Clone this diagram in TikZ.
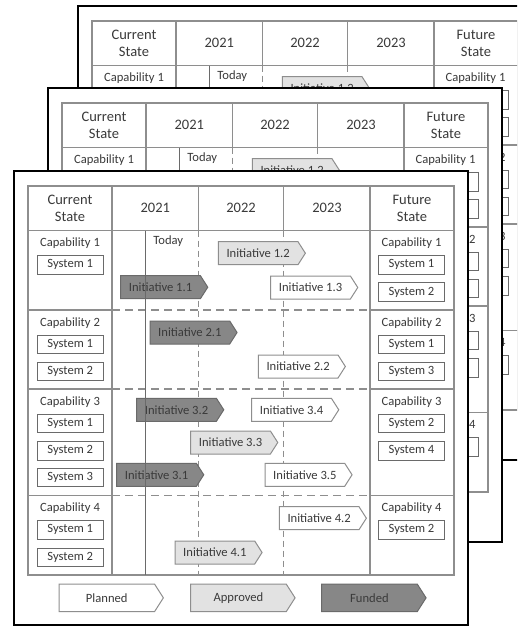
\documentclass[tikz,border=0pt]{standalone}
\usepackage{fontspec}
\setmainfont{Carlito}

\definecolor{gridgray}{HTML}{8E8E8E}
\definecolor{boxgray}{HTML}{6A6A6A}
\definecolor{inkgray}{HTML}{3A3A3A}
\definecolor{fundfill}{HTML}{878787}
\definecolor{apprfill}{HTML}{E2E2E2}

\tikzset{
  gridline/.style={draw=gridgray, line width=1.1pt},
  griddash/.style={draw=gridgray, line width=1.1pt, dash pattern=on 8pt off 5pt},
  griddashv/.style={draw=gridgray, line width=1.1pt, dash pattern=on 6pt off 4pt},
  todayline/.style={draw=boxgray, line width=1.1pt},
  sheetframe/.style={draw=black, line width=1.8pt, fill=white},
  headtext/.style={font=\fontsize{14.5}{16.7}\selectfont, text=inkgray, align=center, inner sep=0pt},
  bodytext/.style={font=\fontsize{12.6}{15}\selectfont, text=inkgray, inner sep=0pt},
  sysbox/.style={bodytext, draw=boxgray, line width=1pt, fill=white,
                 minimum width=66pt, minimum height=18.3pt},
  planned/.style={draw=gridgray, line width=1pt, fill=white},
  approved/.style={draw=gridgray, line width=1pt, fill=apprfill},
  funded/.style={draw=boxgray, line width=1pt, fill=fundfill},
}

% status tag: name, left, top, body width, height, status style, label
\newcommand\statustag[7]{%
  \path[#6] (#2,#3) -- ++(#4,0) -- ++(0.32*#5,0.5*#5) -- ++(-0.32*#5,0.5*#5)
        -- ++(-#4,0) -- cycle;
  \node[bodytext] (#1) at (#2+0.5*#4,#3+0.5*#5) {#7};
}

% sheet frame, table grid, header, first row and future state column;
% #1 prefixes the node names
\newcommand\sheetbase[1]{%
  \path[sheetframe] (14,171) rectangle (468,625);
  % dashed year boundaries and capability separators
  \foreach \xx in {198.5,283.7} \draw[griddashv] (\xx,230.7) -- (\xx,575);
  \foreach \yy in {310,389,495.5} {%
    \draw[griddash] (112,\yy) -- (370,\yy);
    \draw[gridline] (28,\yy) -- (112,\yy) (370,\yy) -- (454,\yy);
  }
  % solid table frame
  \draw[gridline] (28,186) rectangle (454,575);
  \draw[gridline] (28,230.7) -- (454,230.7);
  \foreach \xx in {198.5,283.7} \draw[gridline] (\xx,186) -- (\xx,230.7);
  \foreach \xx in {112,370} \draw[gridline] (\xx,186) -- (\xx,575);
  % header
  \node[headtext] (#1-cur) at (70,208.3) {Current\\State};
  \node[headtext] (#1-y21) at (155.3,208.3) {2021};
  \node[headtext] (#1-y22) at (241,208.3) {2022};
  \node[headtext] (#1-y23) at (327,208.3) {2023};
  \node[headtext] (#1-fut) at (412,208.3) {Future\\State};
  \node[bodytext] (#1-today) at (168.3,241) {Today};
  \node[bodytext] (#1-cc1) at (70,242.7) {Capability 1};
  % future state capabilities and systems
  \foreach \nm/\yy/\lbl in {
      fc1/242.7/Capability 1, fc2/322.7/Capability 2,
      fc3/401.7/Capability 3, fc4/508.3/Capability 4}
    \node[bodytext] (#1-\nm) at (411.5,\yy) {\lbl};
  \foreach \nm/\yy/\lbl in {
      fs11/264.9/System 1, fs12/292/System 2,
      fs21/344.2/System 1, fs23/371.5/System 3,
      fs32/423.5/System 2, fs34/450.9/System 4,
      fs42/529.9/System 2}
    \node[sysbox] (#1-\nm) at (411.5,\yy) {\lbl};
  \statustag{#1-i12}{218.3}{241.7}{79.7}{23}{approved}{Initiative 1.2}
}

% current state column, remaining initiatives and the legend
\newcommand\sheetbody[1]{%
  \foreach \nm/\yy/\lbl in {
      cc2/322.7/Capability 2, cc3/401.7/Capability 3, cc4/508.3/Capability 4}
    \node[bodytext] (#1-\nm) at (70,\yy) {\lbl};
  \foreach \nm/\yy/\lbl in {
      cs11/264.9/System 1,
      cs21/344.2/System 1, cs22/371.5/System 2,
      cs31/423.5/System 1, cs32/450.9/System 2, cs33/477.5/System 3,
      cs41/529.9/System 1, cs42/557.5/System 2}
    \node[sysbox] (#1-\nm) at (70.3,\yy) {\lbl};
  \statustag{#1-i11}{120.7}{275.7}{79.7}{23}{funded}{Initiative 1.1}
  \statustag{#1-i13}{270.7}{276}{79.7}{23}{planned}{Initiative 1.3}
  \statustag{#1-i21}{150}{321}{79.7}{23}{funded}{Initiative 2.1}
  \statustag{#1-i22}{258.3}{355}{79.7}{23}{planned}{Initiative 2.2}
  \statustag{#1-i32}{136.7}{398.3}{79.7}{23}{funded}{Initiative 3.2}
  \statustag{#1-i34}{251.7}{398.3}{79.7}{23}{planned}{Initiative 3.4}
  \statustag{#1-i33}{190.7}{431}{79.7}{23}{approved}{Initiative 3.3}
  \statustag{#1-i31}{116.7}{463.3}{79.7}{23}{funded}{Initiative 3.1}
  \statustag{#1-i35}{265}{463.3}{79.7}{23}{planned}{Initiative 3.5}
  \statustag{#1-i42}{279.3}{506.7}{79.7}{23}{planned}{Initiative 4.2}
  \statustag{#1-i41}{175}{541}{79.7}{23}{approved}{Initiative 4.1}
  % legend
  \statustag{#1-lp}{59}{584}{95.5}{27.7}{planned}{Planned}
  \statustag{#1-la}{190.7}{584}{95.5}{27.7}{approved}{Approved}
  \statustag{#1-lf}{321.7}{584}{95.5}{27.7}{funded}{Funded}
}

% today marker, drawn over the tags
\newcommand\todaymark{\draw[todayline] (145.7,230.7) -- (145.7,575);}

\begin{document}
\begin{tikzpicture}[x=1pt,y=-1pt]
  \useasboundingbox (0,0) rectangle (517,626);
  \clip (0,0) rectangle (517,626);
  % stacked copies behind
  \begin{scope}[shift={(64,-165)}]
    \sheetbase{back}\todaymark
  \end{scope}
  \begin{scope}[shift={(34,-83)}]
    \sheetbase{mid}\todaymark
  \end{scope}
  % front sheet
  \sheetbase{front}
  \sheetbody{front}
  \todaymark
\end{tikzpicture}
\end{document}
